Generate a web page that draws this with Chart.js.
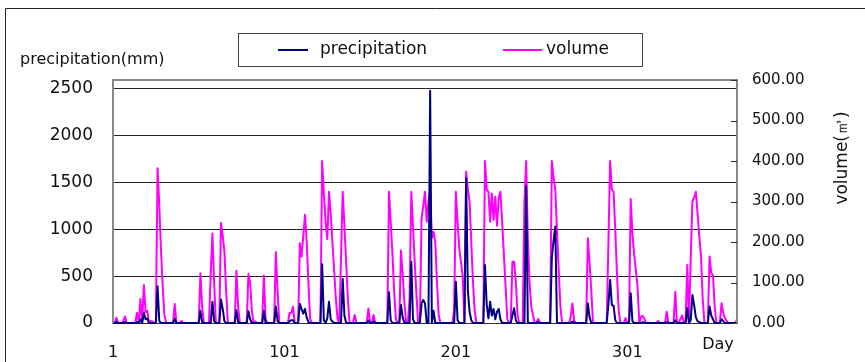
<!DOCTYPE html>
<html>
<head>
<meta charset="utf-8">
<script src="https://cdn.jsdelivr.net/npm/chart.js@4.4.0/dist/chart.umd.min.js"></script>
<style>
  html, body { margin: 0; padding: 0; background: #fff; }
  #chart { display: block; }
</style>
</head>
<body>
<canvas id="chart" width="865" height="362"></canvas>
<script>
// daily precipitation (mm), day 1..365, ten days per row
const precipitation = [
  0, 0, 10, 0, 0, 0, 0, 10, 0, 0,
  0, 0, 0, 0, 10, 0, 40, 0, 107, 40,
  50, 0, 0, 0, 0, 0, 392, 20, 0, 0,
  0, 0, 0, 0, 0, 0, 45, 0, 0, 0,
  0, 0, 0, 0, 0, 0, 0, 0, 0, 0,
  0, 130, 10, 0, 0, 0, 0, 0, 228, 20,
  0, 0, 0, 250, 150, 20, 0, 0, 0, 0,
  0, 0, 135, 10, 0, 0, 0, 0, 0, 125,
  40, 0, 0, 0, 0, 0, 0, 0, 130, 0,
  0, 0, 0, 0, 0, 175, 20, 0, 0, 0,
  0, 0, 0, 20, 30, 30, 0, 0, 0, 206,
  150, 100, 150, 60, 10, 0, 0, 0, 0, 0,
  0, 0, 627, 30, 0, 50, 228, 40, 15, 0,
  0, 0, 0, 0, 470, 80, 0, 0, 0, 0,
  0, 0, 0, 0, 0, 0, 0, 0, 0, 25,
  0, 0, 15, 0, 0, 0, 0, 0, 0, 0,
  0, 328, 30, 0, 0, 0, 0, 0, 192, 60,
  0, 0, 0, 0, 655, 40, 0, 0, 0, 0,
  210, 245, 210, 0, 0, 2480, 0, 130, 0, 0,
  0, 0, 0, 0, 0, 0, 0, 0, 0, 0,
  441, 30, 0, 0, 0, 0, 1550, 350, 120, 30,
  0, 0, 0, 0, 0, 0, 0, 620, 200, 50,
  228, 80, 150, 40, 120, 150, 40, 0, 0, 0,
  0, 0, 0, 80, 157, 30, 0, 0, 0, 0,
  0, 1460, 0, 0, 0, 0, 0, 0, 10, 0,
  0, 0, 0, 0, 0, 0, 700, 880, 1030, 0,
  0, 0, 0, 0, 0, 0, 0, 0, 15, 0,
  0, 0, 0, 0, 0, 0, 0, 210, 60, 0,
  0, 0, 0, 0, 0, 0, 0, 0, 0, 200,
  459, 192, 184, 30, 0, 0, 0, 0, 0, 0,
  0, 0, 317, 20, 0, 0, 0, 0, 0, 10,
  0, 0, 0, 0, 0, 0, 0, 0, 0, 0,
  0, 0, 0, 10, 0, 0, 0, 0, 30, 0,
  0, 0, 0, 0, 0, 157, 0, 30, 300, 190,
  60, 20, 10, 0, 0, 0, 0, 0, 175, 80,
  40, 0, 0, 0, 0, 40, 20, 0, 0, 0,
  0, 0, 0, 0, 0
];

// daily volume (m3), day 1..365
const volume = [
  0, 0, 13, 0, 0, 0, 4, 16, 0, 0,
  0, 0, 0, 0, 25, 0, 59, 0, 94, 27,
  30, 0, 5, 4, 0, 0, 382, 290, 180, 90,
  20, 0, 0, 0, 0, 0, 47, 0, 0, 0,
  5, 0, 0, 0, 0, 0, 0, 0, 0, 0,
  0, 123, 40, 0, 0, 0, 0, 120, 221, 100,
  0, 0, 0, 247, 215, 176, 80, 0, 0, 0,
  0, 0, 129, 40, 0, 0, 0, 0, 0, 121,
  100, 30, 0, 4, 0, 0, 0, 0, 117, 10,
  0, 0, 0, 0, 0, 175, 80, 0, 0, 0,
  0, 0, 0, 25, 25, 40, 0, 0, 0, 197,
  164, 215, 267, 200, 100, 10, 0, 0, 0, 0,
  0, 0, 400, 320, 250, 207, 324, 270, 200, 130,
  60, 10, 0, 160, 324, 240, 150, 60, 0, 0,
  0, 20, 0, 0, 0, 0, 0, 0, 0, 36,
  0, 0, 20, 0, 0, 0, 0, 0, 0, 0,
  0, 324, 250, 170, 80, 10, 0, 0, 179, 120,
  50, 0, 0, 60, 324, 240, 150, 70, 0, 0,
  258, 290, 324, 250, 300, 324, 210, 225, 200, 100,
  20, 0, 0, 0, 0, 0, 0, 0, 0, 30,
  324, 250, 185, 150, 115, 0, 374, 330, 300, 200,
  100, 30, 0, 0, 0, 0, 0, 400, 330, 324,
  250, 320, 255, 312, 240, 310, 324, 250, 170, 90,
  10, 0, 0, 151, 151, 100, 20, 0, 0, 0,
  300, 400, 210, 100, 40, 20, 0, 0, 10, 0,
  0, 0, 0, 0, 0, 0, 400, 360, 330, 230,
  130, 40, 0, 0, 0, 0, 0, 15, 48, 5,
  0, 0, 0, 0, 0, 0, 0, 209, 150, 80,
  0, 0, 0, 0, 0, 0, 0, 0, 0, 200,
  400, 330, 324, 230, 120, 30, 0, 0, 0, 12,
  0, 0, 306, 220, 170, 130, 90, 0, 15, 18,
  10, 0, 0, 0, 0, 0, 0, 0, 5, 0,
  0, 0, 0, 28, 0, 0, 0, 0, 77, 0,
  0, 10, 19, 0, 0, 143, 0, 160, 300, 310,
  324, 270, 215, 165, 60, 0, 0, 0, 164, 123,
  118, 40, 0, 0, 0, 49, 25, 12, 5, 0,
  0, 0, 0, 0, 8
];

const days = [];
for (let d = 1; d <= 365; d++) days.push(d);

const dayTicks = [1, 101, 201, 301];
const precipTicks = [0, 500, 1000, 1500, 2000, 2500];
const volumeTicks = [0, 100, 200, 300, 400, 500, 600];

const FONT = 'DejaVu Sans';

const decor = {
  id: 'decor',
  beforeDraw(chart) {
    const ctx = chart.ctx;
    ctx.save();
    ctx.fillStyle = '#fff';
    ctx.fillRect(0, 0, chart.width, chart.height);
    ctx.restore();
  },
  afterDraw(chart) {
    const { ctx, chartArea: a } = chart;
    const yR = chart.scales.y1;
    ctx.save();

    // outer frame
    ctx.strokeStyle = '#222';
    ctx.lineWidth = 1;
    ctx.beginPath();
    ctx.moveTo(5.5, 362);
    ctx.lineTo(5.5, 8.5);
    ctx.lineTo(865, 8.5);
    ctx.stroke();

    // plot border
    ctx.strokeStyle = '#888';
    ctx.lineWidth = 2;
    ctx.beginPath();
    ctx.moveTo(a.left, a.bottom);
    ctx.lineTo(a.left, a.top);
    ctx.lineTo(a.right, a.top);
    ctx.lineTo(a.right, a.bottom);
    ctx.stroke();

    // inner ticks on right axis
    ctx.strokeStyle = '#333';
    ctx.lineWidth = 1;
    volumeTicks.forEach(v => {
      const y = Math.round(yR.getPixelForValue(v)) + 0.5;
      ctx.beginPath();
      ctx.moveTo(a.right - 6, y);
      ctx.lineTo(a.right, y);
      ctx.stroke();
    });

    // legend
    ctx.strokeStyle = '#444';
    ctx.lineWidth = 1;
    ctx.strokeRect(238.5, 33.5, 404, 33);
    ctx.lineWidth = 2;
    ctx.strokeStyle = '#000080';
    ctx.beginPath(); ctx.moveTo(278, 50); ctx.lineTo(308, 50); ctx.stroke();
    ctx.strokeStyle = '#ff00ff';
    ctx.beginPath(); ctx.moveTo(503, 50); ctx.lineTo(542, 50); ctx.stroke();

    ctx.fillStyle = '#111';
    ctx.textBaseline = 'middle';
    ctx.textAlign = 'left';
    ctx.font = '17px "' + FONT + '"';
    ctx.fillText('precipitation', 320, 50);
    ctx.fillText('volume', 546, 50);

    // axis titles
    ctx.font = '16px "' + FONT + '"';
    ctx.fillText('precipitation(mm)', 20, 60);
    ctx.textAlign = 'center';
    ctx.fillText('Day', 718, 345);
    ctx.font = '17px "' + FONT + '"';
    ctx.translate(843, 158);
    ctx.rotate(-Math.PI / 2);
    ctx.fillText('volume(㎥)', 0, 0);

    ctx.restore();
  }
};

new Chart(document.getElementById('chart'), {
  type: 'line',
  data: {
    labels: days,
    datasets: [{
      label: 'precipitation',
      data: precipitation,
      yAxisID: 'y',
      borderColor: '#000080',
      borderWidth: 2,
      borderJoinStyle: 'round',
      pointRadius: 0,
      tension: 0,
      clip: false
    }, {
      label: 'volume',
      data: volume,
      yAxisID: 'y1',
      borderColor: '#ff00ff',
      borderWidth: 2,
      borderJoinStyle: 'round',
      pointRadius: 0,
      tension: 0,
      clip: false
    }]
  },
  options: {
    responsive: false,
    animation: false,
    devicePixelRatio: 1,
    layout: { padding: { top: 80, left: 0, right: 0, bottom: 0 } },
    plugins: {
      legend: { display: false },
      tooltip: { enabled: false }
    },
    scales: {
      x: {
        type: 'category',
        offset: false,
        grid: { display: false, drawTicks: false },
        border: { display: true, color: '#333', width: 1 },
        ticks: {
          autoSkip: false,
          maxRotation: 0,
          padding: 20,
          color: '#111',
          font: { family: FONT, size: 16 },
          callback: (v, i) => dayTicks.includes(days[i]) ? String(days[i]) : ''
        },
        afterFit: s => { s.height = 39; }
      },
      y: {
        position: 'left',
        min: 0,
        max: 2596,
        afterBuildTicks: s => { s.ticks = precipTicks.map(v => ({ value: v })); },
        grid: { color: '#222', lineWidth: 1, drawTicks: false, tickLength: 0 },
        border: { display: true, color: '#888', width: 2 },
        ticks: {
          padding: 20,
          color: '#111',
          font: { family: FONT, size: 17 },
          callback: v => String(v)
        },
        afterFit: s => { s.width = 113; }
      },
      y1: {
        position: 'right',
        min: 0,
        max: 600,
        afterBuildTicks: s => { s.ticks = volumeTicks.map(v => ({ value: v })); },
        grid: { drawOnChartArea: false, drawTicks: false, tickLength: 0 },
        border: { display: true, color: '#888', width: 2 },
        ticks: {
          padding: 15,
          color: '#111',
          font: { family: FONT, size: 15 },
          callback: v => Number(v).toFixed(2)
        },
        afterFit: s => { s.width = 128; }
      }
    }
  },
  plugins: [decor]
});
</script>
</body>
</html>
